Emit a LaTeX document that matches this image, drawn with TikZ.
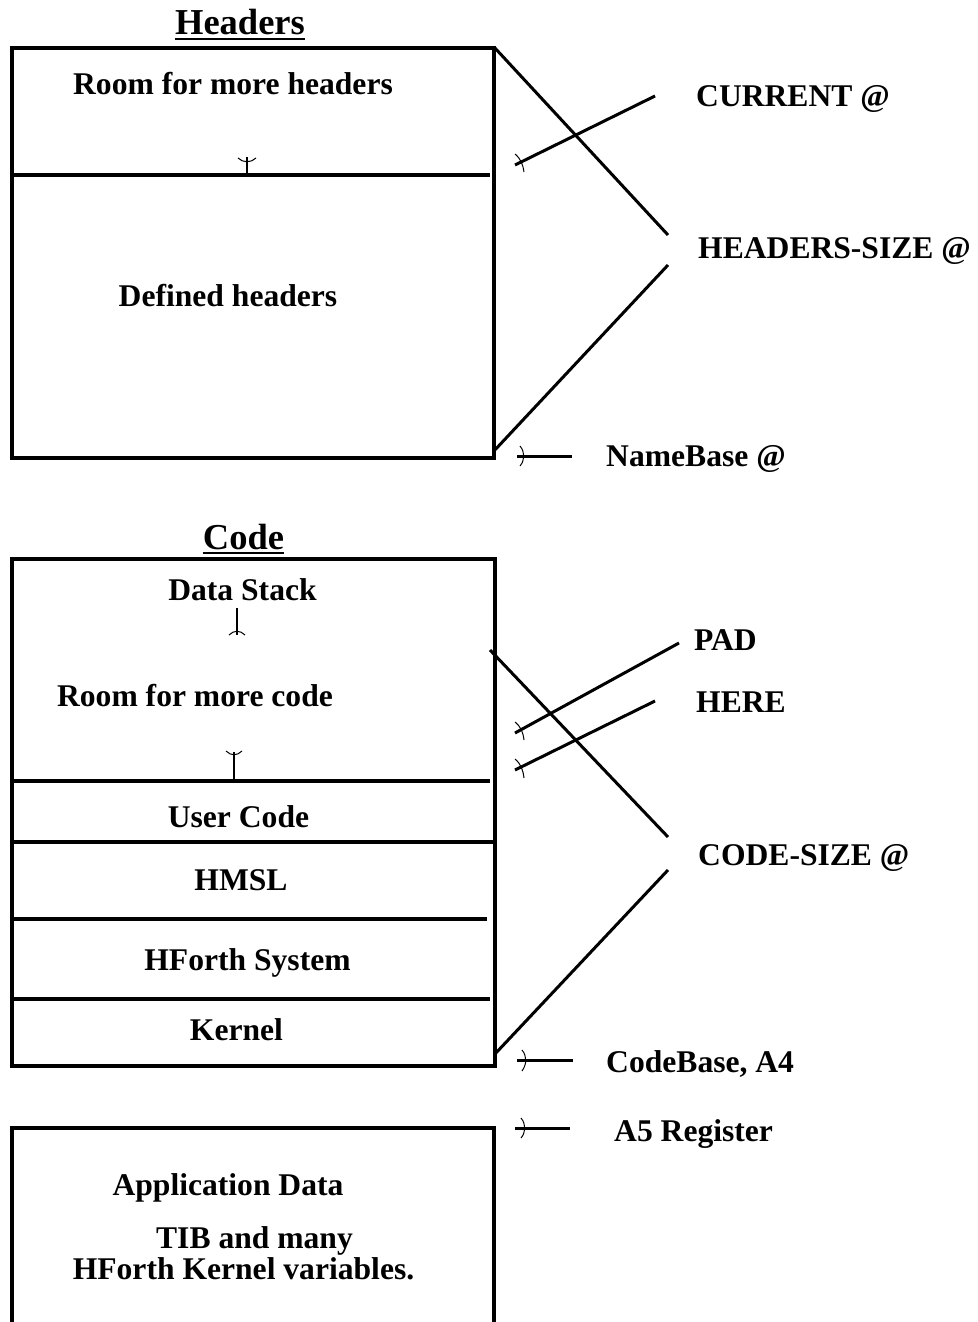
\documentclass[tikz,border=0pt]{standalone}
\usepackage{fontspec}
\setmainfont{Liberation Serif}
\begin{document}
\begin{tikzpicture}[x=1pt,y=-1pt,
  box/.style={line width=3.2pt},
  conn/.style={line width=3pt},
  tickline/.style={line width=2.6pt},
  arcmark/.style={line width=1pt},
  lbl/.style={font=\fontsize{31.6}{36}\selectfont\bfseries, inner sep=0pt, anchor=base},
  rlbl/.style={lbl, anchor=base west},
  ttl/.style={font=\fontsize{36.5}{40}\selectfont\bfseries, inner sep=0pt, anchor=base},
  ul/.style={line width=2.2pt}]
\useasboundingbox (0,0) rectangle (977,1322);

% ---------------- Headers ----------------
\node[ttl] (hdrT) at (240,35) {Headers};
\draw[ul] ([yshift=-4pt]hdrT.base west) -- ([yshift=-4pt]hdrT.base east);

\coordinate (hTL) at (12,48);
\coordinate (hTR) at (494,48);
\coordinate (hBR) at (494,458);
\coordinate (hBL) at (12,458);
\draw[box] (hTL) -- (hTR) -- (hBR) -- (hBL) -- cycle;
\coordinate (hD1) at (12,175);
\coordinate (hD2) at (490,175);
\draw[box] (hD1) -- (hD2);

\node[lbl] (roomH) at (233,95) {Room for more headers};
\node[lbl] (defH) at (228,306) {Defined headers};

% tick in header room
\coordinate (hTk1) at (247,175);
\coordinate (hTk2) at (247,157);
\draw[tickline] (hTk1) -- (hTk2);
\draw[arcmark] (238,158) .. controls (243,163) and (251,163) .. (256,158);

% right labels
\node[rlbl] (cur) at (696,106) {CURRENT @};
\node[rlbl] (hsz) at (698,258) {HEADERS-SIZE @};
\node[rlbl] (nb) at (606,466) {NameBase @};

\coordinate (curA) at (515,165);
\coordinate (curB) at (655,96);
\draw[conn] (curA) -- (curB);
\draw[arcmark] (515,154) .. controls (521,159) and (523,165) .. (524,172);

\coordinate (hsA) at (668,235);
\coordinate (hsB) at (668,265);
\coordinate (hsTop) at (494,47);
\coordinate (hsBot) at (493,452);
\draw[conn] (hsTop) -- (hsA);
\draw[conn] (hsBot) -- (hsB);

\coordinate (nbA) at (517,456);
\coordinate (nbB) at (572,456);
\draw[conn] (nbA) -- (nbB);
\draw[arcmark] (520,446) .. controls (525,452) and (525,460) .. (520,466);

% ---------------- Code ----------------
\node[ttl] (codeT) at (243.5,549) {Code};
\draw[ul] ([yshift=-4pt]codeT.base west) -- ([yshift=-4pt]codeT.base east);

\coordinate (cTL) at (12,559);
\coordinate (cTR) at (495,559);
\coordinate (cBR) at (495,1066);
\coordinate (cBL) at (12,1066);
\draw[box] (cTL) -- (cTR) -- (cBR) -- (cBL) -- cycle;
\draw[box] (12,781) -- (490,781);
\draw[box] (14,842) -- (493,842);
\draw[box] (14,919) -- (487,919);
\draw[box] (14,999) -- (490,999);

\node[lbl] (ds) at (242.5,600) {Data Stack};
\node[lbl] (roomC) at (195,706) {Room for more code};
\node[lbl] (uc) at (238.5,827) {User Code};
\node[lbl] (hmsl) at (241,890) {HMSL};
\node[lbl] (hfs) at (247.5,970) {HForth System};
\node[lbl] (kern) at (236.5,1040) {Kernel};

% ticks in code room
\coordinate (dsTk1) at (237,608);
\coordinate (dsTk2) at (237,635);
\draw[tickline] (dsTk1) -- (dsTk2);
\draw[arcmark] (229,635) .. controls (234,630) and (240,630) .. (245,635);

\coordinate (cTk1) at (234,781);
\coordinate (cTk2) at (234,752);
\draw[tickline] (cTk1) -- (cTk2);
\draw[arcmark] (226,751) .. controls (231,756) and (237,756) .. (242,751);

% right labels
\node[rlbl] (pad) at (694,650) {PAD};
\node[rlbl] (here) at (696,712) {HERE};
\node[rlbl] (csz) at (698,865) {CODE-SIZE @};
\node[rlbl] (cb) at (606,1072) {CodeBase, A4};
\node[rlbl] (a5) at (614,1141) {A5 Register};

\coordinate (padA) at (515,733);
\coordinate (padB) at (679,643);
\draw[conn] (padA) -- (padB);
\draw[arcmark] (515,722) .. controls (521,727) and (523,732) .. (524,740);

\coordinate (hereA) at (515,770);
\coordinate (hereB) at (655,701);
\draw[conn] (hereA) -- (hereB);
\draw[arcmark] (515,759) .. controls (521,764) and (523,770) .. (524,778);

\coordinate (csA) at (668,837);
\coordinate (csB) at (668,870);
\coordinate (csTop) at (490,650);
\coordinate (csBot) at (494,1055);
\draw[conn] (csTop) -- (csA);
\draw[conn] (csBot) -- (csB);

\coordinate (cbA) at (517,1060);
\coordinate (cbB) at (573,1060);
\draw[conn] (cbA) -- (cbB);
\draw[arcmark] (522,1050) .. controls (527,1056) and (527,1064) .. (522,1071);

\coordinate (a5A) at (515,1128);
\coordinate (a5B) at (570,1128);
\draw[conn] (a5A) -- (a5B);
\draw[arcmark] (521,1118) .. controls (526,1124) and (526,1132) .. (521,1138);

% ---------------- Application data ----------------
\coordinate (aTL) at (12,1128);
\coordinate (aTR) at (494,1128);
\draw[box] (12,1330) -- (aTL) -- (aTR) -- (494,1330);

\node[lbl] (appd) at (228,1195) {Application Data};
\node[lbl] (tib) at (254.5,1248) {TIB and many};
\node[lbl] (hkv) at (243.5,1279) {HForth Kernel variables.};
\end{tikzpicture}
\end{document}
